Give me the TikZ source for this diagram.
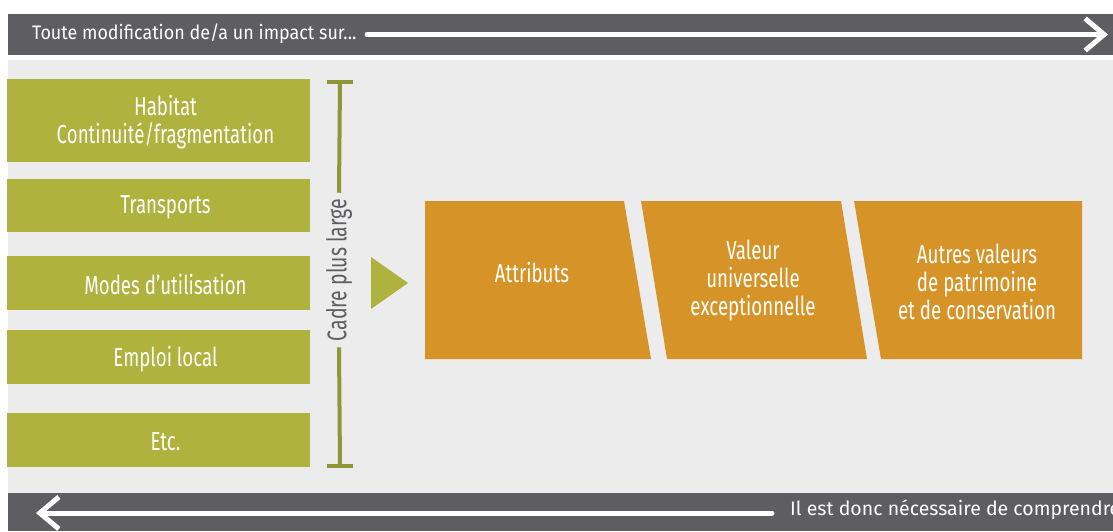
\documentclass[tikz,border=0pt]{standalone}
\usepackage{fontspec}
\setmainfont[FakeStretch=0.72]{Fira Sans}
\newfontfamily\barfont[FakeStretch=0.92]{Fira Sans}
\newfontfamily\lowbarfont[FakeStretch=1.0]{Fira Sans}
\usetikzlibrary{arrows.meta}
\definecolor{bar_grey}{RGB}{94,93,98}
\definecolor{panel_grey}{RGB}{236,236,236}
\definecolor{olive}{RGB}{175,178,61}
\definecolor{dark_olive}{RGB}{142,150,55}
\definecolor{ochre}{RGB}{214,148,40}

\begin{document}
\begin{tikzpicture}[x=1pt,y=-1pt,
    bar/.style={fill=bar_grey},
    panel/.style={fill=panel_grey},
    bar_text/.style={text=white,font=\barfont\fontsize{19.5}{22}\selectfont,inner sep=0pt},
    flow_arrow/.style={white,line width=5pt,line cap=round,-{Straight Barb[length=19pt,width=32pt]}},
    impact_box/.style={fill=olive,minimum width=303pt,inner sep=0pt},
    impact_label/.style={text=white,align=center,xshift=7pt,yshift=-2pt,font=\fontsize{26}{28}\selectfont},
    bracket_line/.style={dark_olive,line width=4pt},
    bracket_text/.style={rotate=90,text=bar_grey,inner xsep=6pt,inner ysep=0pt,font=\fontsize{27}{28}\selectfont},
    pointer/.style={fill=olive},
    value_box/.style={fill=ochre},
    value_text/.style={text=white,align=center,font=\fontsize{26}{28}\selectfont}]
  \useasboundingbox (0,0) rectangle (1113,531);
  \clip (0,0) rectangle (1113,531);
  % bandeaux et fond
  \fill[bar] (8,14) rectangle (1113,55);
  \fill[panel] (8,60) rectangle (1113,493);
  \fill[bar] (8,493) rectangle (1113,531);
\node[bar_text,anchor=base west] (top_text) at (32,39.5) {Toute modification de/a un impact sur...};
\node[bar_text,font=\lowbarfont\fontsize{19.5}{22}\selectfont,anchor=base west] (bottom_text) at (790,515.5) {Il est donc nécessaire de comprendre};
\coordinate (top_start) at (367,34.5);
\coordinate (top_end) at (1108,34.5);
\coordinate (bottom_start) at (772,513);
\coordinate (bottom_end) at (36,513);
\draw[flow_arrow] (top_start) -- (top_end);
\draw[flow_arrow] (bottom_start) -- (bottom_end);
% colonne de gauche
\node[impact_box,minimum height=83pt,label={[impact_label]center:Habitat\\Continuité/fragmentation}] (habitat) at (158.5,120.5) {};
\node[impact_box,minimum height=53pt,label={[impact_label]center:Transports}] (transports) at (158.5,205.5) {};
\node[impact_box,minimum height=54pt,label={[impact_label]center:Modes d’utilisation}] (modes) at (158.5,283) {};
\node[impact_box,minimum height=54pt,label={[impact_label]center:Emploi local}] (emploi) at (158.5,357) {};
\node[impact_box,minimum height=54pt,label={[impact_label]center:Etc.}] (etc) at (158.5,440) {};
% accolade
\node[bracket_text] (cadre) at (339,270) {Cadre plus large};
\coordinate (bracket_top) at (340,82);
\coordinate (bracket_bottom) at (340,466);
\draw[bracket_line] (cadre.east) -- (bracket_top);
\draw[bracket_line] (cadre.west) -- (bracket_bottom);
\draw[bracket_line] ([xshift=-13pt]bracket_top) -- ([xshift=13pt]bracket_top);
\draw[bracket_line] ([xshift=-13pt]bracket_bottom) -- ([xshift=13pt]bracket_bottom);
\fill[pointer] (371,257) -- (408,283) -- (371,309) -- cycle;
% valeurs
\fill[value_box] (425,201) -- (624,201) -- (651,359) -- (425,359) -- cycle;
\fill[value_box] (641,201) -- (841,201) -- (867,359) -- (667,359) -- cycle;
\fill[value_box] (854,201) -- (1082,201) -- (1082,359) -- (881,359) -- cycle;
\node[value_text] (attributs) at (532,273) {Attributs};
\node[value_text] (vue) at (753,281) {Valeur\\universelle\\exceptionnelle};
\node[value_text] (autres) at (977,282) {Autres valeurs\\de patrimoine\\et de conservation};
\end{tikzpicture}
\end{document}
